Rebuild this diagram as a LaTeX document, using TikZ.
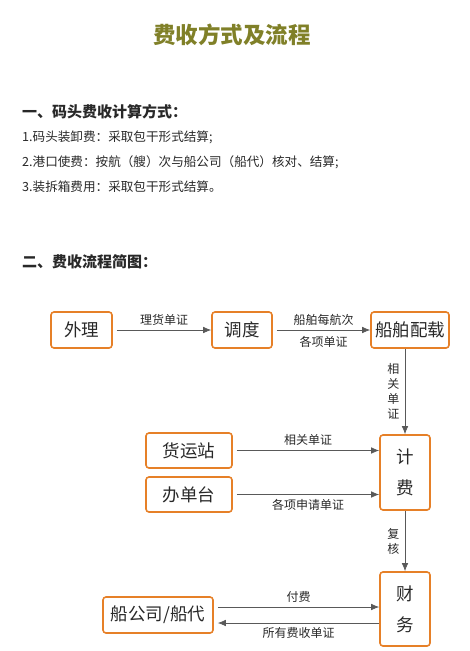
\documentclass[tikz,border=0pt]{standalone}
\usepackage{fontspec}
\setmainfont{Noto Sans CJK SC}
\usetikzlibrary{arrows.meta}

\definecolor{titleolive}{RGB}{128,128,40}
\definecolor{boxorange}{RGB}{230,128,40}
\definecolor{textgray}{RGB}{40,40,40}

\tikzset{
    box/.style={draw=boxorange, line width=1.6pt, rounded corners=3pt, inner sep=0pt,
        font=\fontsize{17.5}{31}\selectfont, text=textgray, align=center},
    flow/.style={draw=black!65, line width=0.7pt, -{Latex[length=8pt,width=6.5pt]}},
    lbl/.style={font=\fontsize{12}{15}\selectfont, text=textgray, align=center},
    para/.style={anchor=west, inner sep=0pt, text=textgray}
}

\begin{document}
\begin{tikzpicture}[x=1pt,y=-1pt]
        \useasboundingbox (0,0) rectangle (469,651);

            %titolo
            \node[font=\fontsize{22.5}{24}\selectfont\bfseries, text=titleolive] (title) at (232,35) {费收方式及流程};

            %testo
            \node[para, font=\fontsize{15}{17}\selectfont\bfseries] (h1) at (22,112) {一、码头费收计算方式：};
            \node[para, font=\fontsize{12.6}{14}\selectfont] (p1) at (22,137) {1.码头装卸费：采取包干形式结算;};
            \node[para, font=\fontsize{12.6}{14}\selectfont] (p2) at (22,162) {2.港口使费：按航（艘）次与船公司（船代）核对、结算;};
            \node[para, font=\fontsize{12.6}{14}\selectfont] (p3) at (22,187) {3.装拆箱费用：采取包干形式结算。};
            \node[para, font=\fontsize{15}{17}\selectfont\bfseries] (h2) at (22,262) {二、费收流程简图：};

            %blocchi
            \node[box, minimum width=61pt, minimum height=36pt] (wl) at (81.5,330) {外理};
            \node[box, minimum width=60pt, minimum height=36pt] (dd) at (242,330) {调度};
            \node[box, minimum width=78pt, minimum height=36pt] (pz) at (410,330) {船舶配载};
            \node[box, minimum width=86pt, minimum height=35pt] (hy) at (189,450.5) {货运站};
            \node[box, minimum width=86pt, minimum height=35pt] (bd) at (189,494.5) {办单台};
            \node[box, minimum width=50pt, minimum height=75pt] (jf) at (405,472.5) {计\\费};
            \node[box, minimum width=50pt, minimum height=74pt] (cw) at (405,609) {财\\务};
            \node[box, minimum width=110pt, minimum height=36pt] (cg) at (158,615) {船公司/船代};

            %frecce e label
            \draw[flow] ([xshift=4pt]wl.east) -- (dd.west) node[lbl, midway, above=1pt] {理货单证};
            \draw[flow] ([xshift=4pt]dd.east) -- (pz.west)
                node[lbl, midway, above=1pt] {船舶每航次}
                node[lbl, midway, below=3pt] {各项单证};
            \draw[flow] (jf.north |- pz.south) -- (jf.north)
                node[lbl, midway, left=2pt] {相\\关\\单\\证};
            \draw[flow] ([xshift=4pt]hy.east) -- (hy.east -| jf.west) node[lbl, midway, above=1pt] {相关单证};
            \draw[flow] ([xshift=4pt]bd.east) -- (bd.east -| jf.west) node[lbl, midway, below=1pt] {各项申请单证};
            \draw[flow] (jf.south) -- (cw.north)
                node[lbl, midway, left=2pt] {复\\核};
            \draw[flow] ([xshift=4pt,yshift=8pt]cg.east) -- ([yshift=8pt]cg.east -| cw.west)
                node[lbl, midway, above=1pt] {付费};
            \draw[flow] ([yshift=-8pt]cg.east -| cw.west) -- ([xshift=4pt,yshift=-8pt]cg.east)
                node[lbl, midway, below=1pt] {所有费收单证};
\end{tikzpicture}
\end{document}
